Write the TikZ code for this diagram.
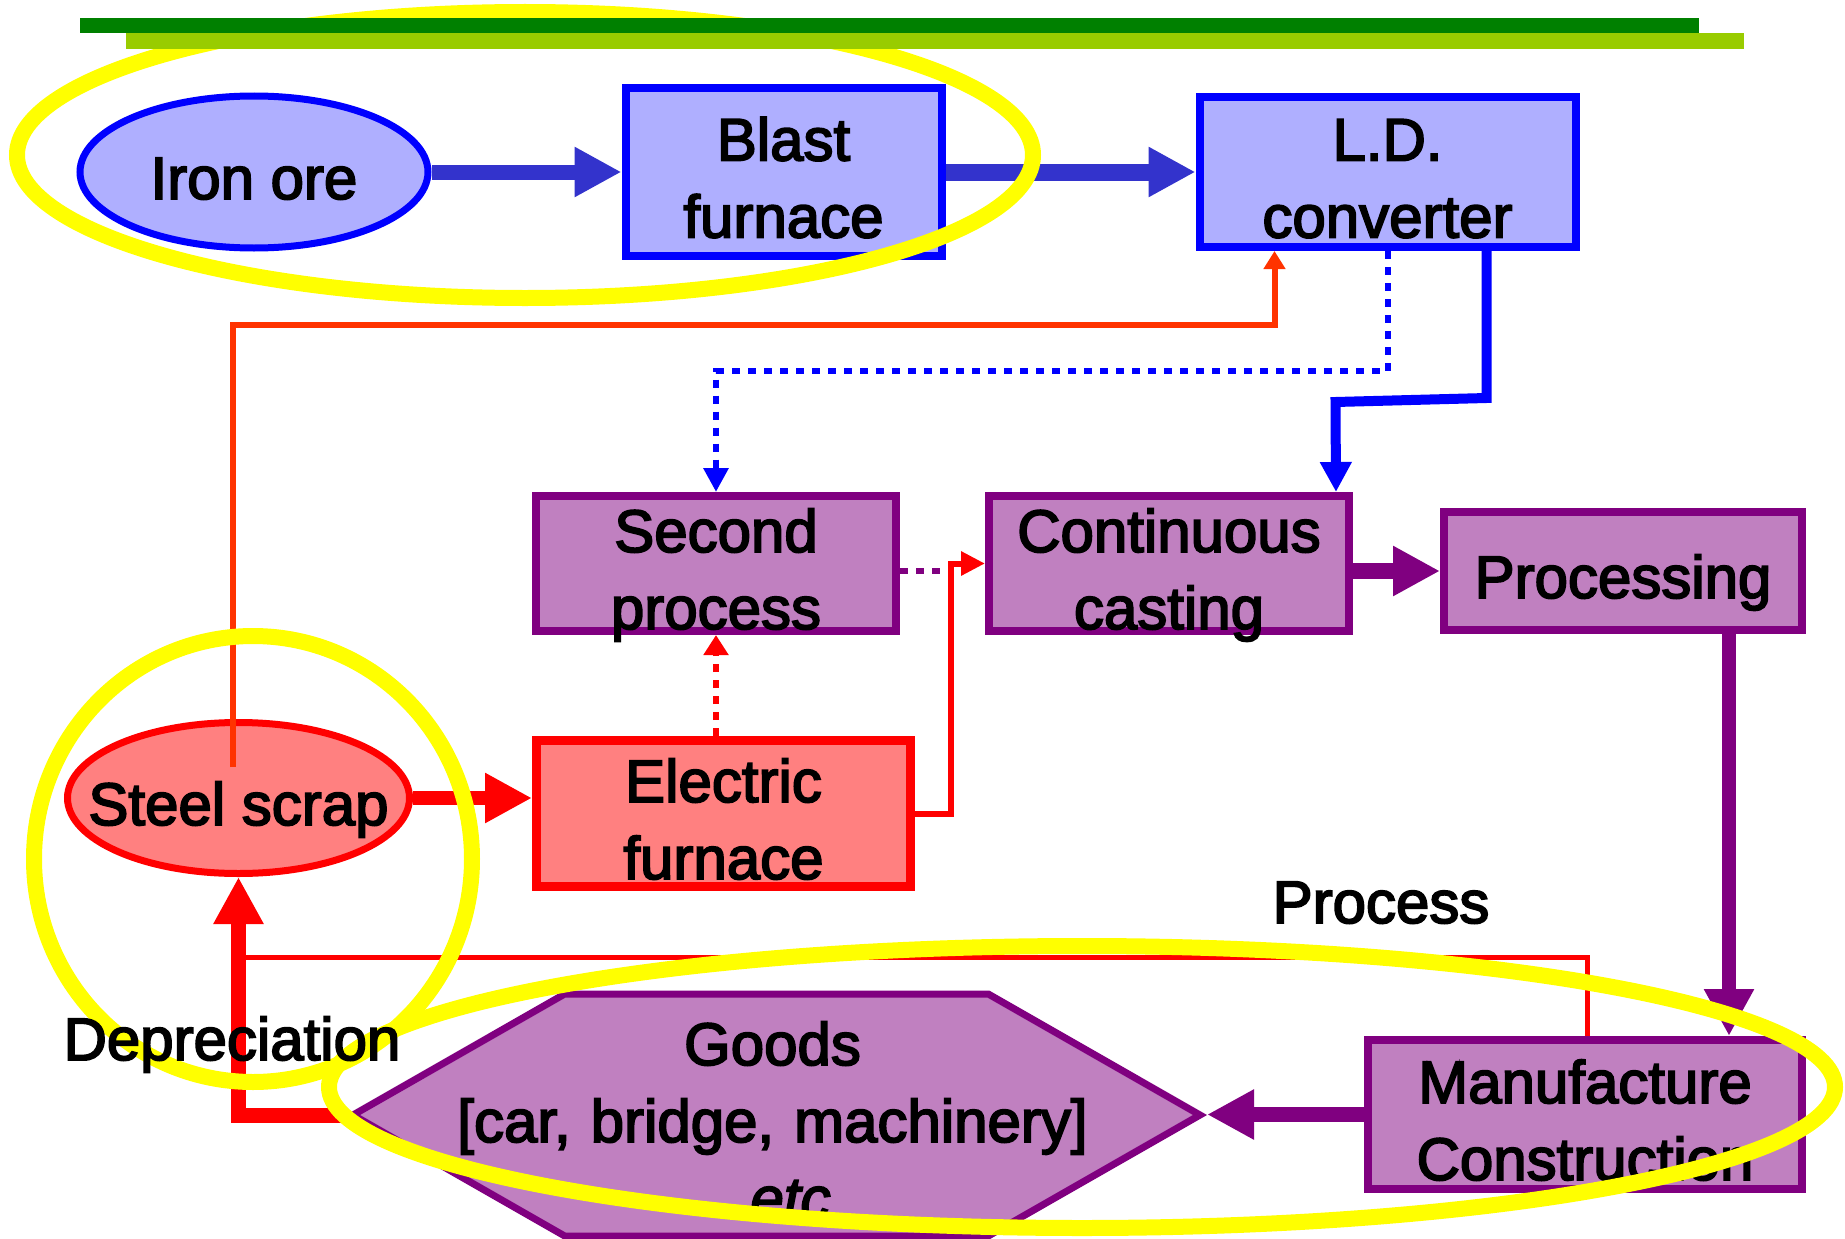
\documentclass[tikz,border=0pt]{standalone}
\usepackage{fontspec}
\setmainfont{Liberation Sans}[FakeBold=3]
\usetikzlibrary{arrows.meta, positioning, shapes.geometric, shapes.symbols}

\definecolor{oreblue}{RGB}{175,175,255}
\definecolor{lineblue}{RGB}{0,0,255}
\definecolor{arblue}{RGB}{51,51,204}
\definecolor{procfill}{RGB}{192,128,192}
\definecolor{procline}{RGB}{128,0,128}
\definecolor{scrapfill}{RGB}{255,128,128}
\definecolor{scrapline}{RGB}{255,0,0}
\definecolor{feedline}{RGB}{255,51,0}
\definecolor{hiyellow}{RGB}{255,255,0}
\definecolor{dkgreen}{RGB}{0,128,0}
\definecolor{ltgreen}{RGB}{153,204,0}

\begin{document}
\begin{tikzpicture}[
    x=1pt, y=-1pt, font=\fontsize{60}{77}\selectfont,
    furn/.style={rectangle, draw=lineblue, fill=oreblue, line width=8pt, inner sep=0pt,
      text width=300pt, align=center, text height=54pt, text depth=77pt},
    proc/.style={furn, draw=procline, fill=procfill},
    elec/.style={furn, draw=scrapline, fill=scrapfill, line width=9pt},
    feed/.style={ellipse, draw=lineblue, fill=oreblue, line width=7pt, inner sep=0pt,
      minimum width=348pt, minimum height=152pt, text height=54pt, text depth=0pt},
    goods/.style={signal, signal to=west and east, signal pointer angle=59.5,
      draw=procline, fill=procfill, line width=7pt, inner sep=0pt,
      minimum width=847pt, minimum height=242pt},
    txt/.style={text width=660pt, align=center, text height=54pt, inner sep=0pt},
    ar/.style={-{Triangle[length=47pt, width=47pt]}, line width=15pt},
    lnk/.style={-{Triangle[length=24pt, width=23pt]}, line width=6pt},
    dotln/.style={line width=6pt, dash pattern=on 8pt off 8pt},
    hl/.style={draw=hiyellow, line width=16pt}]
  \useasboundingbox (0,0) rectangle (1845,1239);
  % upper route: ore -> blast furnace -> converter
  \node[feed] (ore) at (254,172) {Iron ore};
  \node[furn, minimum width=316pt, minimum height=168pt, right=190pt of ore] (bf) {Blast\\furnace};
  \node[furn, minimum width=376pt, minimum height=150pt, right=250pt of bf] (ld) {L.D.\\converter};
  % steel making
  \node[proc, minimum width=360pt, minimum height=135pt] (sp) at (716,563.5) {Second\\process};
  \node[proc, minimum width=360pt, minimum height=135pt, text width=340pt, right=85pt of sp] (cc) {Continuous\\casting};
  \node[proc, minimum width=358pt, minimum height=118pt, text width=340pt, text depth=0pt] (pr) at (1623,571) {Processing};
  % scrap route
  \node[feed, draw=scrapline, fill=scrapfill, minimum width=342pt, minimum height=151pt] (ss) at (238.5,798) {\makebox[0pt]{Steel scrap}};
  \node[elec, minimum width=374pt, minimum height=146pt] (ef) at (723.5,813.5) {Electric\\furnace};
  % use
  \node[proc, minimum width=434pt, minimum height=149pt, text width=400pt] (mc) at (1585,1114.5) {Manufacture\\Construction};
  \node[goods] (gd) at (776.5,1115) {};
  \node[txt, text depth=154pt] (gdt) at ([xshift=-4pt]gd.center) {Goods\\{}[car, bridge, machinery]\\\hspace*{36pt}\textit{etc}};

  \draw[ar, arblue] (ore) -- (bf);
  \draw[ar, arblue, line width=17pt] (bf) -- (ld);
  \draw[dotln, lineblue, -{Triangle[length=24pt, width=24pt]}] (ld.south) -- ++(0,120) -| (sp.north);
  \draw[lineblue, line width=10pt, -{Triangle[length=30pt, width=30pt]}] ([xshift=99pt]ld.south) -- ++(0,147) -- ++(-151,4) -- ([xshift=167pt]cc.north);
  \draw[dotln, procline] ([yshift=-7.5pt]sp.east) -- ++(42,0);
  \draw[lnk, scrapline] (ef.east) -- ++(36,0) |- (cc.west);
  \draw[dotln, scrapline, -{Triangle[length=20pt, width=24pt]}] (ef.north -| sp.south) -- (sp.south);
  \draw[ar, scrapline, line width=14pt] (ss) -- (ss -| ef.west);
  \draw[ar, procline, line width=16pt] (cc.east |- pr) -- (pr);
  \draw[ar, procline, line width=14pt] ([xshift=106pt]pr.south) -- ([xshift=144pt]mc.north);
  \draw[ar, procline] (mc) -- (mc -| gd.east);
  \draw[ar, scrapline] (gd.west) -| (ss.south);
  \draw[scrapline, line width=5pt] ([xshift=2pt]mc.north) |- ([yshift=-80pt]ss.south);
  \draw[lnk, feedline, -{Triangle[length=18pt, width=21pt]}] ([xshift=-6pt, yshift=31pt]ss.center) |- ([xshift=-113pt, yshift=-74pt]ld.south) -- ([xshift=-113pt]ld.south);

  % highlights
  \draw[hl] (525,155) ellipse [x radius=508pt, y radius=143pt];
  \draw[hl] (253,859) ellipse [x radius=219pt, y radius=223pt];
  \draw[hl] (1082,1087) ellipse [x radius=753pt, y radius=141pt];
  \fill[dkgreen] (80,18) rectangle (1699,33);
  \fill[ltgreen] (126,33) rectangle (1744,49);
  \node[anchor=base] (prl) at (1381,923) {Process};
  \node[anchor=base] (dep) at (232,1060) {Depreciation};
\end{tikzpicture}
\end{document}
